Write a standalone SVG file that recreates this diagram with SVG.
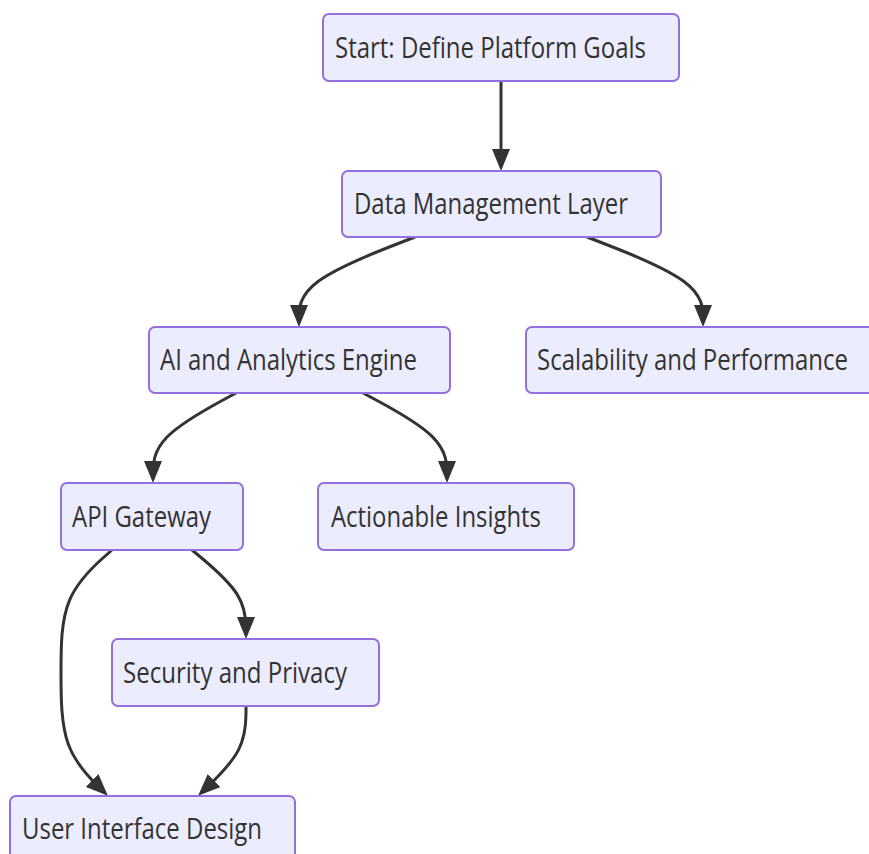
<svg xmlns="http://www.w3.org/2000/svg" width="869" height="854" viewBox="0 0 869 854">
<style>
.node rect{fill:#ECECFF;stroke:#9370DB;stroke-width:2}
.node text{font-family:"Open Sans","Noto Sans","DejaVu Sans",sans-serif;font-size:29px;fill:#333333}
.edges path{fill:none;stroke:#333333;stroke-width:3}
</style>
<defs>
<marker id="arrow" markerUnits="userSpaceOnUse" markerWidth="22" markerHeight="18" refX="18" refY="9" orient="auto">
<path d="M0,0 L22,9 L0,18 z" fill="#333333"/>
</marker>
</defs>
<rect width="869" height="854" fill="#FFFFFF"/>
<g class="edges">
<path marker-end="url(#arrow)" d="M501,81 L501,167"/>
<path marker-end="url(#arrow)" d="M415,237 L395.67,244.5 C376.33,252 337.67,267 318.33,281.33 C299,295.67 299,309.33 299,316.17 L299,323"/>
<path marker-end="url(#arrow)" d="M587,237 L606.33,244.5 C625.67,252 664.33,267 683.67,281.33 C703,295.67 703,309.33 703,316.17 L703,323"/>
<path marker-end="url(#arrow)" d="M236,393 L222.17,400.5 C208.33,408 180.67,423 166.83,437.33 C153,451.67 153,465.33 153,472.17 L153,479"/>
<path marker-end="url(#arrow)" d="M363,393 L377,400.5 C391,408 419,423 433,437.33 C447,451.67 447,465.33 447,472.17 L447,479"/>
<path marker-end="url(#arrow)" d="M192,550 L201,557.5 C210,565 228,580 237,594.17 C246,608.33 246,621.67 246,628.33 L246,635"/>
<path marker-end="url(#arrow)" d="M112,550 L103.5,557.5 C95,565 78,580 69.5,600.33 C61,620.67 61,646.33 61,672.17 C61,698 61,724 68.33,744.17 C75.67,764.33 90.33,778.67 97.67,785.83 L105,793"/>
<path marker-end="url(#arrow)" d="M246,706 L246,713.33 C246,720.67 246,735.33 238.5,749.83 C231,764.33 216,778.67 208.5,785.83 L201,793"/>
</g>
<g id="start" class="node"><rect x="323" y="14" width="356" height="67" rx="6"/><text x="335" y="58" textLength="311" lengthAdjust="spacingAndGlyphs">Start: Define Platform Goals</text></g>
<g id="data" class="node"><rect x="342" y="171" width="319" height="66" rx="6"/><text x="354" y="214" textLength="274" lengthAdjust="spacingAndGlyphs">Data Management Layer</text></g>
<g id="ai" class="node"><rect x="149" y="327" width="301" height="66" rx="6"/><text x="160" y="370" textLength="257" lengthAdjust="spacingAndGlyphs">AI and Analytics Engine</text></g>
<g id="scal" class="node"><rect x="526" y="327" width="354" height="66" rx="6"/><text x="537" y="370" textLength="311" lengthAdjust="spacingAndGlyphs">Scalability and Performance</text></g>
<g id="api" class="node"><rect x="61" y="483" width="182" height="67" rx="6"/><text x="72" y="527" textLength="139" lengthAdjust="spacingAndGlyphs">API Gateway</text></g>
<g id="insights" class="node"><rect x="318" y="483" width="256" height="67" rx="6"/><text x="331" y="527" textLength="210" lengthAdjust="spacingAndGlyphs">Actionable Insights</text></g>
<g id="security" class="node"><rect x="112" y="639" width="267" height="67" rx="6"/><text x="123" y="683" textLength="224" lengthAdjust="spacingAndGlyphs">Security and Privacy</text></g>
<g id="ui" class="node"><rect x="10" y="796" width="285" height="67" rx="6"/><text x="22" y="839" textLength="240" lengthAdjust="spacingAndGlyphs">User Interface Design</text></g>
</svg>
